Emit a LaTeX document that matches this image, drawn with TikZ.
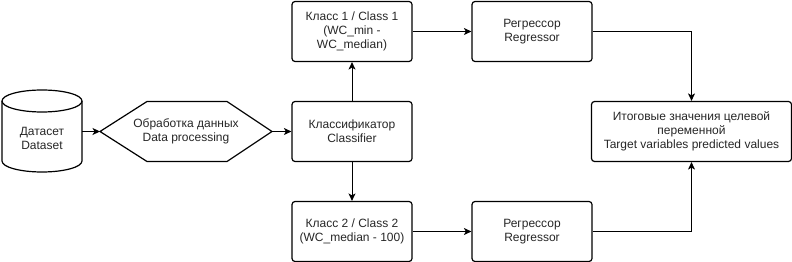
\documentclass[tikz,border=0pt]{standalone}
\usepackage{fontspec}
\setmainfont{Liberation Sans}
\usetikzlibrary{arrows.meta}
\begin{document}
\begin{tikzpicture}[x=1pt,y=1pt,
  txt/.style={align=center, font=\fontsize{12}{14}\selectfont, inner sep=0pt, text=black!85},
  box/.style={txt, draw=black, line width=1.2pt, rounded corners=3pt, minimum width=120pt, minimum height=60pt},
  arr/.style={line width=1pt, -{Stealth[length=7.5pt,width=7pt,inset=2pt]}}]
\useasboundingbox (0,0) rectangle (792,262);
% cylinder
\draw[line width=1.2pt] (2,161) -- (2,101) arc[start angle=180,end angle=360,x radius=40,y radius=11]
  -- (82,161) arc[start angle=0,end angle=180,x radius=40,y radius=11] -- cycle;
\draw[line width=1.2pt] (2,161) arc[start angle=180,end angle=360,x radius=40,y radius=11];
\node[txt] (ds) at (42,123.7) {Датасет\\Dataset};
\coordinate (dsr) at (82,130.5);
% hexagon
\draw[line width=1.2pt] (100,130.5) coordinate (hl) -- (147,160.5) -- (227,160.5) -- (272,130.5) coordinate (hr)
  -- (227,100.5) -- (147,100.5) -- cycle;
\node[txt] (dp) at (186,130.5) {Обработка данных\\Data processing};
% boxes
\node[box] (cls) at (352,130.5) {Классификатор\\Classifier};
\node[box] (c1) at (352,230.5) {Класс 1 / Class 1\\(WC\_min -\\WC\_median)};
\node[box] (c2) at (352,30.5) {Класс 2 / Class 2\\(WC\_median - 100)};
\node[box] (r1) at (532,230.5) {Регрессор\\Regressor};
\node[box] (r2) at (532,30.5) {Регрессор\\Regressor};
\node[box, minimum width=200pt] (res) at (691.5,130.5) {Итоговые значения целевой\\переменной\\Target variables predicted values};
% connectors
\draw[arr] (dsr) -- (hl);
\draw[arr] (hr) -- (cls.west);
\draw[arr] (cls.north) -- (c1.south);
\draw[arr] (cls.south) -- (c2.north);
\draw[arr] (c1.east) -- (r1.west);
\draw[arr] (c2.east) -- (r2.west);
\draw[arr] (r1.east) -| (res.north);
\draw[arr] (r2.east) -| (res.south);
\end{tikzpicture}
\end{document}
